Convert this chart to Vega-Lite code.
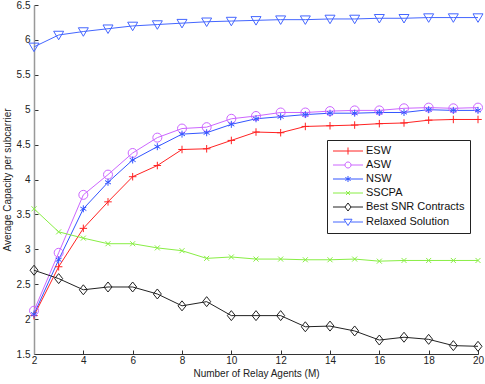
{
  "$schema": "https://vega.github.io/schema/vega-lite/v6.json",
  "width": 444,
  "height": 349,
  "autosize": {"type": "none"},
  "padding": {"left": 34, "top": 5, "right": 7, "bottom": 30},
  "background": "white",
  "config": {
    "view": {"stroke": null},
    "font": "Liberation Sans",
    "axis": {"labelFont": "Liberation Sans", "titleFont": "Liberation Sans", "labelFontSize": 10, "titleFontSize": 10, "titleFontWeight": "normal", "labelColor": "#222", "titleColor": "#222", "grid": false}
  },
  "datasets": {
    "d": [
      {"x": 2, "v": 2.05, "s": "ESW"}, {"x": 3, "v": 2.75, "s": "ESW"}, {"x": 4, "v": 3.3, "s": "ESW"}, {"x": 5, "v": 3.68, "s": "ESW"}, {"x": 6, "v": 4.04, "s": "ESW"}, {"x": 7, "v": 4.2, "s": "ESW"}, {"x": 8, "v": 4.43, "s": "ESW"}, {"x": 9, "v": 4.44, "s": "ESW"}, {"x": 10, "v": 4.56, "s": "ESW"}, {"x": 11, "v": 4.68, "s": "ESW"}, {"x": 12, "v": 4.67, "s": "ESW"}, {"x": 13, "v": 4.76, "s": "ESW"}, {"x": 14, "v": 4.77, "s": "ESW"}, {"x": 15, "v": 4.78, "s": "ESW"}, {"x": 16, "v": 4.8, "s": "ESW"}, {"x": 17, "v": 4.81, "s": "ESW"}, {"x": 18, "v": 4.85, "s": "ESW"}, {"x": 19, "v": 4.86, "s": "ESW"}, {"x": 20, "v": 4.86, "s": "ESW"},
      {"x": 2, "v": 2.12, "s": "ASW"}, {"x": 3, "v": 2.95, "s": "ASW"}, {"x": 4, "v": 3.78, "s": "ASW"}, {"x": 5, "v": 4.07, "s": "ASW"}, {"x": 6, "v": 4.38, "s": "ASW"}, {"x": 7, "v": 4.6, "s": "ASW"}, {"x": 8, "v": 4.73, "s": "ASW"}, {"x": 9, "v": 4.75, "s": "ASW"}, {"x": 10, "v": 4.87, "s": "ASW"}, {"x": 11, "v": 4.91, "s": "ASW"}, {"x": 12, "v": 4.96, "s": "ASW"}, {"x": 13, "v": 4.96, "s": "ASW"}, {"x": 14, "v": 4.98, "s": "ASW"}, {"x": 15, "v": 4.99, "s": "ASW"}, {"x": 16, "v": 4.99, "s": "ASW"}, {"x": 17, "v": 5.02, "s": "ASW"}, {"x": 18, "v": 5.03, "s": "ASW"}, {"x": 19, "v": 5.02, "s": "ASW"}, {"x": 20, "v": 5.03, "s": "ASW"},
      {"x": 2, "v": 2.07, "s": "NSW"}, {"x": 3, "v": 2.85, "s": "NSW"}, {"x": 4, "v": 3.58, "s": "NSW"}, {"x": 5, "v": 3.96, "s": "NSW"}, {"x": 6, "v": 4.28, "s": "NSW"}, {"x": 7, "v": 4.47, "s": "NSW"}, {"x": 8, "v": 4.65, "s": "NSW"}, {"x": 9, "v": 4.67, "s": "NSW"}, {"x": 10, "v": 4.79, "s": "NSW"}, {"x": 11, "v": 4.87, "s": "NSW"}, {"x": 12, "v": 4.9, "s": "NSW"}, {"x": 13, "v": 4.93, "s": "NSW"}, {"x": 14, "v": 4.95, "s": "NSW"}, {"x": 15, "v": 4.95, "s": "NSW"}, {"x": 16, "v": 4.96, "s": "NSW"}, {"x": 17, "v": 4.96, "s": "NSW"}, {"x": 18, "v": 5.0, "s": "NSW"}, {"x": 19, "v": 4.99, "s": "NSW"}, {"x": 20, "v": 4.99, "s": "NSW"},
      {"x": 2, "v": 3.58, "s": "SSCPA"}, {"x": 3, "v": 3.25, "s": "SSCPA"}, {"x": 4, "v": 3.16, "s": "SSCPA"}, {"x": 5, "v": 3.08, "s": "SSCPA"}, {"x": 6, "v": 3.08, "s": "SSCPA"}, {"x": 7, "v": 3.02, "s": "SSCPA"}, {"x": 8, "v": 2.98, "s": "SSCPA"}, {"x": 9, "v": 2.87, "s": "SSCPA"}, {"x": 10, "v": 2.89, "s": "SSCPA"}, {"x": 11, "v": 2.86, "s": "SSCPA"}, {"x": 12, "v": 2.86, "s": "SSCPA"}, {"x": 13, "v": 2.85, "s": "SSCPA"}, {"x": 14, "v": 2.85, "s": "SSCPA"}, {"x": 15, "v": 2.86, "s": "SSCPA"}, {"x": 16, "v": 2.83, "s": "SSCPA"}, {"x": 17, "v": 2.84, "s": "SSCPA"}, {"x": 18, "v": 2.84, "s": "SSCPA"}, {"x": 19, "v": 2.84, "s": "SSCPA"}, {"x": 20, "v": 2.84, "s": "SSCPA"},
      {"x": 2, "v": 2.7, "s": "Best SNR Contracts"}, {"x": 3, "v": 2.58, "s": "Best SNR Contracts"}, {"x": 4, "v": 2.42, "s": "Best SNR Contracts"}, {"x": 5, "v": 2.46, "s": "Best SNR Contracts"}, {"x": 6, "v": 2.46, "s": "Best SNR Contracts"}, {"x": 7, "v": 2.36, "s": "Best SNR Contracts"}, {"x": 8, "v": 2.19, "s": "Best SNR Contracts"}, {"x": 9, "v": 2.25, "s": "Best SNR Contracts"}, {"x": 10, "v": 2.05, "s": "Best SNR Contracts"}, {"x": 11, "v": 2.05, "s": "Best SNR Contracts"}, {"x": 12, "v": 2.05, "s": "Best SNR Contracts"}, {"x": 13, "v": 1.89, "s": "Best SNR Contracts"}, {"x": 14, "v": 1.9, "s": "Best SNR Contracts"}, {"x": 15, "v": 1.83, "s": "Best SNR Contracts"}, {"x": 16, "v": 1.7, "s": "Best SNR Contracts"}, {"x": 17, "v": 1.74, "s": "Best SNR Contracts"}, {"x": 18, "v": 1.71, "s": "Best SNR Contracts"}, {"x": 19, "v": 1.62, "s": "Best SNR Contracts"}, {"x": 20, "v": 1.61, "s": "Best SNR Contracts"},
      {"x": 2, "v": 5.9, "s": "Relaxed Solution"}, {"x": 3, "v": 6.07, "s": "Relaxed Solution"}, {"x": 4, "v": 6.12, "s": "Relaxed Solution"}, {"x": 5, "v": 6.16, "s": "Relaxed Solution"}, {"x": 6, "v": 6.2, "s": "Relaxed Solution"}, {"x": 7, "v": 6.22, "s": "Relaxed Solution"}, {"x": 8, "v": 6.24, "s": "Relaxed Solution"}, {"x": 9, "v": 6.26, "s": "Relaxed Solution"}, {"x": 10, "v": 6.27, "s": "Relaxed Solution"}, {"x": 11, "v": 6.28, "s": "Relaxed Solution"}, {"x": 12, "v": 6.29, "s": "Relaxed Solution"}, {"x": 13, "v": 6.29, "s": "Relaxed Solution"}, {"x": 14, "v": 6.3, "s": "Relaxed Solution"}, {"x": 15, "v": 6.3, "s": "Relaxed Solution"}, {"x": 16, "v": 6.31, "s": "Relaxed Solution"}, {"x": 17, "v": 6.31, "s": "Relaxed Solution"}, {"x": 18, "v": 6.32, "s": "Relaxed Solution"}, {"x": 19, "v": 6.32, "s": "Relaxed Solution"}, {"x": 20, "v": 6.32, "s": "Relaxed Solution"}
    ]
  },
  "data": {"name": "d"},
  "encoding": {
    "x": {"field": "x", "type": "quantitative", "title": "Number of Relay Agents (M)",
      "scale": {"domain": [2, 20], "nice": false, "zero": false},
      "axis": {"values": [2,4,6,8,10,12,14,16,18,20], "domainColor": "#333", "tickColor": "#333", "tickSize": -4, "labelPadding": 5, "titlePadding": 3, "labelFlush": false}},
    "y": {"field": "v", "type": "quantitative", "title": "Average Capacity per subcarrier",
      "scale": {"domain": [1.5, 6.5], "nice": false, "zero": false},
      "axis": {"values": [1.5,2,2.5,3,3.5,4,4.5,5,5.5,6,6.5], "format": "~g", "domainColor": "#999", "domainWidth": 1.5, "tickColor": "#333", "tickSize": -4, "labelPadding": 8, "titlePadding": 4}},
    "color": {"field": "s", "type": "nominal",
      "scale": {"domain": ["ESW", "ASW", "NSW", "SSCPA", "Best SNR Contracts", "Relaxed Solution"],
        "range": ["#ff2222", "#cc66ff", "#3355ff", "#88ee44", "#222222", "#4466ff"]},
      "legend": {"title": null, "orient": "none", "legendX": 293, "legendY": 135,
        "strokeColor": "#222", "fillColor": "white", "padding": 5,
        "labelFont": "Liberation Sans", "labelFontSize": 11, "labelColor": "#111",
        "symbolSize": 121, "symbolOffset": 10, "labelOffset": 12, "rowPadding": 2,
        "encode": {"symbols": {"update": {
          "fill": {"value": "transparent"},
          "strokeWidth": {"value": 1},
          "size": {"value": 121},
          "shape": {"signal": "datum.value === 'ESW' ? 'M-2.73,0L2.73,0M0,-0.64L0,0.64' : datum.value === 'ASW' ? 'M-2.73,0L-0.55,0M0.55,0L2.73,0M-0.55,0A0.55,0.55,0,1,0,0.55,0A0.55,0.55,0,1,0,-0.55,0' : datum.value === 'NSW' ? 'M-2.73,0L2.73,0M0,-0.55L0,0.55M-0.48,-0.28L0.48,0.28M-0.48,0.28L0.48,-0.28' : datum.value === 'SSCPA' ? 'M-2.73,0L2.73,0M-0.36,-0.36L0.36,0.36M-0.36,0.36L0.36,-0.36' : datum.value === 'Best SNR Contracts' ? 'M-2.73,0L-0.55,0M0.55,0L2.73,0M-0.55,0L0,-0.73L0.55,0L0,0.73Z' : 'M-2.73,0L-0.5,0M0.5,0L2.73,0M-0.73,-0.5L0.73,-0.5L0,0.64Z'"}
        }}}}
    }
  },
  "layer": [
    {"mark": {"type": "line", "strokeWidth": 1}, "encoding": {"detail": {"field": "s"}}},
    {"mark": {"type": "point", "filled": false, "size": 100, "strokeWidth": 1, "opacity": 1},
      "encoding": {"shape": {"field": "s", "type": "nominal", "legend": null,
        "scale": {"domain": ["Relaxed Solution", "Best SNR Contracts", "SSCPA", "NSW", "ASW", "ESW"],
          "range": ["M-1,-0.75L1,-0.75L0,0.95Z", "M0,-1L0.8,0L0,1L-0.8,0Z", "M-0.5,-0.5L0.5,0.5M-0.5,0.5L0.5,-0.5", "M0,-0.7L0,0.7M-0.6,-0.35L0.6,0.35M-0.6,0.35L0.6,-0.35", "M-0.9,0A0.9,0.9,0,1,0,0.9,0A0.9,0.9,0,1,0,-0.9,0", "M-0.75,0L0.75,0M0,-0.75L0,0.75"]}}}}
  ]
}
